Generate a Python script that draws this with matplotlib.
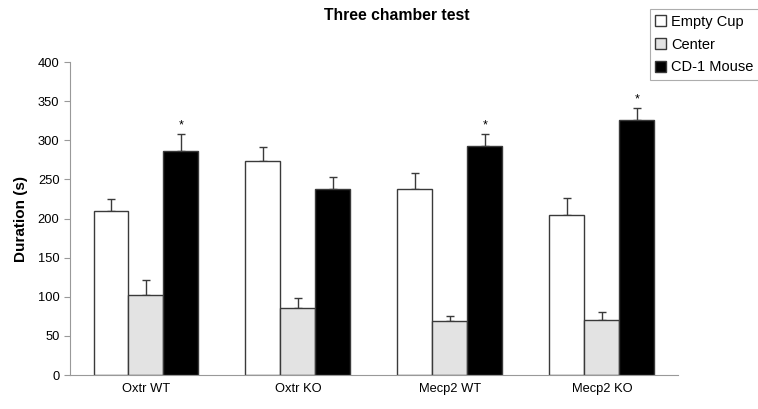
import matplotlib
matplotlib.use('Agg')
import matplotlib.pyplot as plt
import numpy as np

plt.rcParams['font.family'] = ['Liberation Sans', 'DejaVu Sans']

groups = ['Oxtr WT', 'Oxtr KO', 'Mecp2 WT', 'Mecp2 KO']
series = ['Empty Cup', 'Center', 'CD-1 Mouse']
empty_cup = [210, 274, 238, 205]
empty_cup_err = [15, 17, 20, 21]
center = [102, 86, 69, 70]
center_err = [20, 12, 7, 10]
cd1_mouse = [287, 238, 293, 326]
cd1_mouse_err = [21, 15, 15, 16]
significant = [True, False, True, True]

colors = ['white', '#e3e3e3', 'black']

fig = plt.figure(figsize=(7.58, 4.09), dpi=100)
ax = fig.add_axes([0.0923, 0.083, 0.802, 0.765])

x = np.arange(len(groups))
w = 0.23
values = [empty_cup, center, cd1_mouse]
errs = [empty_cup_err, center_err, cd1_mouse_err]
for i, (vals, err, name) in enumerate(zip(values, errs, series)):
    ax.bar(x + (i - 1) * w, vals, w, color=colors[i], edgecolor='#3a3a3a',
           linewidth=1.0, label=name, zorder=2)
    ax.errorbar(x + (i - 1) * w, vals, yerr=[np.zeros(len(vals)), err], fmt='none',
                ecolor='#3a3a3a', elinewidth=1.0, capsize=3, capthick=1.0, zorder=1)

for k, sig in enumerate(significant):
    if sig:
        ax.text(x[k] + w, cd1_mouse[k] + cd1_mouse_err[k] + 3, '*', ha='center',
                va='bottom', fontsize=9)

ax.set_xlim(-0.5, 3.5)
ax.set_ylim(0, 400)
ax.set_yticks(range(0, 401, 50))
ax.set_xticks(x)
ax.set_xticklabels(groups, fontsize=9.3)
ax.tick_params(axis='y', labelsize=9.3, length=4, color='#999999', direction='out')
ax.tick_params(axis='x', length=0, pad=6)
for s in ['top', 'right']:
    ax.spines[s].set_visible(False)
ax.spines['left'].set_color('#999999')
ax.spines['bottom'].set_color('#999999')
ax.set_ylabel('Duration (s)', fontsize=11, fontweight='bold', labelpad=7)

fig.text(0.524, 0.962, 'Three chamber test', ha='center', va='center',
         fontsize=11.3, fontweight='bold')

leg = fig.legend(loc='upper left', bbox_to_anchor=(0.857, 0.978), fontsize=10.5,
                 frameon=True, fancybox=False, handlelength=0.75, handleheight=0.75,
                 handletextpad=0.3, borderpad=0.4, labelspacing=0.6, borderaxespad=0)
leg.get_frame().set_edgecolor('#999999')
leg.get_frame().set_linewidth(0.8)

fig.savefig('out.png', dpi=100)
